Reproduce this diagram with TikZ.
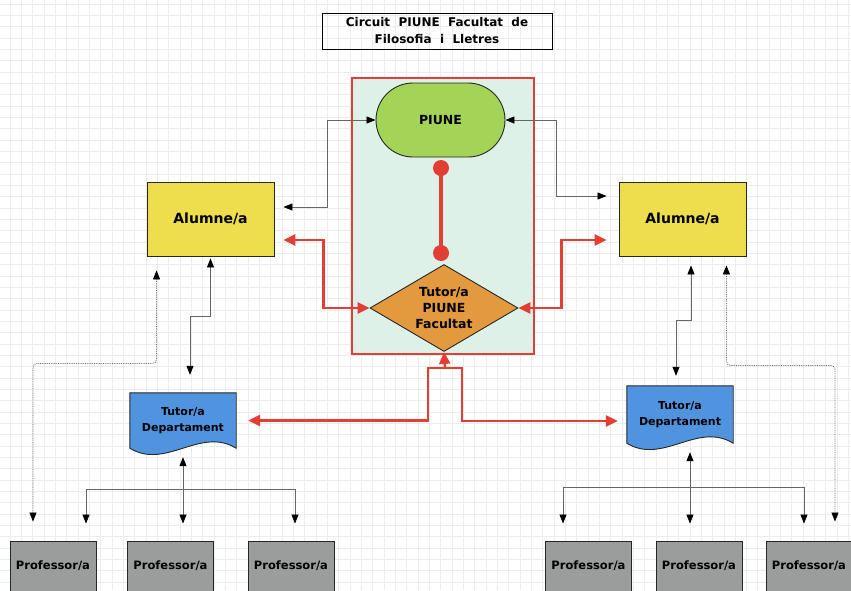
\documentclass[tikz,border=0pt]{standalone}
\usepackage{fontspec}
\setmainfont{DejaVu Sans}
\usetikzlibrary{arrows.meta,shapes.geometric}

\definecolor{piured}{RGB}{227,62,52}
\definecolor{mint}{RGB}{222,241,233}
\definecolor{piugreen}{RGB}{163,212,88}
\definecolor{piuorange}{RGB}{227,154,62}
\definecolor{aluyellow}{RGB}{238,221,76}
\definecolor{depblue}{RGB}{80,148,224}
\definecolor{profgray}{RGB}{154,157,156}
\definecolor{gridgray}{RGB}{236,236,236}

\pgfdeclarelayer{paper}
\pgfdeclarelayer{under}
\pgfsetlayers{paper,under,main}

% wavy document outline behind a named node
\newcommand{\deptwave}[1]{%
  \draw[deptline] (#1.north west) -- (#1.north east) -- (#1.south east)
    .. controls ([xshift=-36pt,yshift=22pt]#1.south east) and ([xshift=36pt,yshift=-22pt]#1.south west) .. (#1.south west) -- cycle;}

\begin{document}
\begin{tikzpicture}[x=1pt,y=-1pt]
	% Set styles
	\tikzset{
		gridline/.style={draw=gridgray, line width=0.6pt},
		title/.style={draw, line width=1pt, minimum width=230pt, minimum height=36pt, align=center, inner sep=0pt,
			font=\bfseries\fontsize{12}{17}\selectfont},
		frame/.style={draw=piured, fill=mint, line width=2.5pt, minimum width=182pt, minimum height=276pt},
		flowbox/.style={draw=black!85, line width=0.9pt, inner sep=0pt},
		aluno/.style={flowbox, fill=aluyellow, minimum width=127pt, minimum height=74pt, font=\bfseries\fontsize{14}{16}\selectfont},
		piune/.style={flowbox, fill=piugreen, minimum width=129pt, minimum height=74pt, rounded corners=37pt, font=\bfseries\fontsize{12.5}{15}\selectfont},
		tutp/.style={flowbox, diamond, aspect=1.7, fill=piuorange, minimum width=148pt, minimum height=87pt, align=center, font=\bfseries\fontsize{12.5}{16}\selectfont},
		dept/.style={minimum width=106pt, align=center, inner sep=0pt, font=\bfseries\fontsize{11}{15.5}\selectfont},
		deptline/.style={draw=black!85, line width=0.9pt, fill=depblue},
		prof/.style={flowbox, fill=profgray, minimum width=86pt, minimum height=50pt, font=\bfseries\fontsize{11.5}{14}\selectfont},
		dot/.style={circle, fill=piured, minimum size=16pt, inner sep=0pt},
		link/.style={draw=black!60, line width=0.8pt, >={Triangle[length=9pt,width=7pt,color=black]}},
		dotlink/.style={link, densely dotted, rounded corners=4pt},
		redlink/.style={draw=piured, line width=2.4pt, >={Triangle[length=12pt,width=11pt]}}
	}
	\useasboundingbox (0,0) rectangle (851,590);
	\clip (0,0) rectangle (851,590);
	
	% Paper grid
	\begin{pgfonlayer}{paper}
		\fill[white] (0,0) rectangle (851,590);
		\foreach \gx in {0,...,74} \draw[gridline] (10+\gx*11.33,0) -- (10+\gx*11.33,590);
		\foreach \gy in {0,...,52} \draw[gridline] (0,4+\gy*11.33) -- (851,4+\gy*11.33);
	\end{pgfonlayer}
	
	% Title
	\node[title] (title) at (437,31) {Circuit\ \ PIUNE\ \ Facultat\ \ de\\Filosofia\ \ i\ \ Lletres};
	
	% PIUNE block
	\node[frame] (frame) at (443,216) {};
	\node[piune] (piune) at (440.5,120) {PIUNE};
	\node[tutp] (tutp) at (444,308) {Tutor/a\\PIUNE\\Facultat};
	\draw[piured, line width=4pt] (441,168) -- (441,253);
	\node[dot] (dotA) at (441,168) {};
	\node[dot] (dotB) at (441,253) {};
	
	% Students
	\node[aluno] (aluL) at (210.5,219) {Alumne/a};
	\node[aluno] (aluR) at (682.5,219) {Alumne/a};
	
	% Department tutors
	\node[dept, minimum height=55pt] (depL) at (183,420.5) {Tutor/a\\Departament};
	\node[dept, minimum height=57pt] (depR) at (680,414.5) {Tutor/a\\Departament};
	\begin{pgfonlayer}{under}
		\deptwave{depL}
		\deptwave{depR}
	\end{pgfonlayer}
	
	% Teachers
	\node[prof] (profL1) at (53,566) {Professor/a};
	\node[prof] (profL2) at (170.5,566) {Professor/a};
	\node[prof] (profL3) at (291,566) {Professor/a};
	\node[prof] (profR1) at (588.5,566) {Professor/a};
	\node[prof] (profR2) at (699,566) {Professor/a};
	\node[prof] (profR3) at (809,566) {Professor/a};
	
	% Thin links
	\draw[link,<->] ([xshift=9pt,yshift=12pt]aluL.east) -| ([xshift=-48pt]piune.west) -- (piune.west);
	\draw[link,<->] (piune.east) -- ([xshift=51pt]piune.east) |- ([xshift=-12pt,yshift=23pt]aluR.west);
	\draw[link,<->] ([yshift=-2pt]aluL.south) -- ++(0,58) -| ([xshift=7pt,yshift=18pt]depL.north);
	\draw[link,<->] ([xshift=8.5pt,yshift=-9pt]aluR.south) -- ++(0,55) -| ([xshift=-4pt,yshift=10pt]depR.north);
	\draw[dotlink,<->] ([xshift=10pt,yshift=-14pt]aluL.south west) -- ++(0,93) -| ([xshift=-20pt,yshift=19pt]profL1.north);
	\draw[dotlink,<->] ([xshift=-20pt,yshift=-9pt]aluR.south east) -- ++(0,100) -| ([xshift=26pt,yshift=19pt]profR3.north);
	
	% Teacher trees
	\coordinate (barL) at (183,489);
	\coordinate (barR) at (690,487);
	\draw[link,<->] ([yshift=-9pt]depL.south) -- ([xshift=12.5pt,yshift=17pt]profL2.north);
	\draw[link,->] (barL) -| ([xshift=33pt,yshift=17pt]profL1.north);
	\draw[link,->] (barL) -| ([xshift=4pt,yshift=17pt]profL3.north);
	\draw[link,<->] ([xshift=10pt,yshift=-9pt]depR.south) -- ([xshift=-9pt,yshift=17pt]profR2.north);
	\draw[link,->] (barR) -| ([xshift=-25.5pt,yshift=17pt]profR1.north);
	\draw[link,->] (barR) -| ([xshift=-5pt,yshift=17pt]profR3.north);
	
	% Red links
	\draw[redlink,<->] ([xshift=9pt,yshift=-21pt]aluL.east) -| ([xshift=-46pt]tutp.west) -- (tutp.west);
	\draw[redlink,<->] (tutp.east) -- ([xshift=43pt]tutp.east) |- ([xshift=-12pt,yshift=-21pt]aluR.west);
	\coordinate (forkL) at (428,368);
	\coordinate (forkR) at (462,368);
	\coordinate (forkM) at (445,368);
	\draw[redlink,<->] ([xshift=12pt]depL.east) -| (forkL) -- (forkR) |- ([xshift=-9pt,yshift=-6.5pt]depR.west);
	\draw[redlink,->] (forkM) -- (tutp.south);
\end{tikzpicture}
\end{document}
